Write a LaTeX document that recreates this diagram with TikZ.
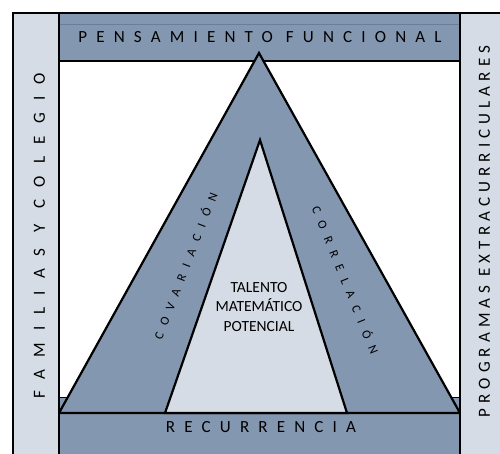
\documentclass[tikz,border=0pt]{standalone}
\usepackage{fontspec}
\setmainfont{Carlito}
\definecolor{banda}{HTML}{8497B0}
\definecolor{claro}{HTML}{D6DCE5}
\definecolor{raya}{HTML}{6B7D98}

\begin{document}
\begin{tikzpicture}[x=1pt,y=-1pt,
  marco/.style={draw=black,line width=2.2pt},
  rotulo/.style={inner sep=0pt,font=\fontsize{17}{19}\selectfont\addfontfeature{LetterSpace=54}},
  rotulo1/.style={inner sep=0pt,font=\fontsize{17}{19}\selectfont\addfontfeature{LetterSpace=72}},
  rotulo2/.style={inner sep=0pt,font=\fontsize{17}{19}\selectfont\addfontfeature{LetterSpace=30}},
  lado/.style={inner sep=0pt,font=\fontsize{12.5}{14}\selectfont\addfontfeature{LetterSpace=68}},
  centro/.style={inner sep=0pt,align=center,font=\fontsize{15.5}{19.5}\selectfont}]
\useasboundingbox (0,0) rectangle (500,453);
% bandas
\fill[banda] (59,397) rectangle (460,470);
\draw[thin] (59,397) -- (460,397);
\draw[marco,fill=banda] (59,13) rectangle (460,61);
\draw[raya,thin] (59,24) -- (460,24);
% triangulos
\draw[marco,fill=banda] (59,413) -- (259,53) -- (460,413) -- cycle;
\draw[marco,fill=claro] (165,413) -- (260,140) -- (347,413) -- cycle;
% columnas
\draw[marco,fill=claro] (13,13) rectangle (59,470);
\draw[marco,fill=claro] (460,13) rectangle (510,470);
% textos
\node[rotulo] (pf) at (260,37.5) {PENSAMIENTO FUNCIONAL};
\node[rotulo] (rec) at (261,427.5) {RECURRENCIA};
\node[rotulo1,rotate=90] (fam) at (39.5,236) {FAMILIAS Y COLEGIO};
\node[rotulo2,rotate=90] (prog) at (484.5,231.5) {PROGRAMAS EXTRACURRICULARES};
\node[lado,rotate=69] (cov) at (185,266) {COVARIACIÓN};
\node[lado,rotate=-68] (cor) at (346,280) {CORRELACIÓN};
\node[centro] (tal) at (259,307) {TALENTO\\MATEMÁTICO\\POTENCIAL};
\end{tikzpicture}
\end{document}
